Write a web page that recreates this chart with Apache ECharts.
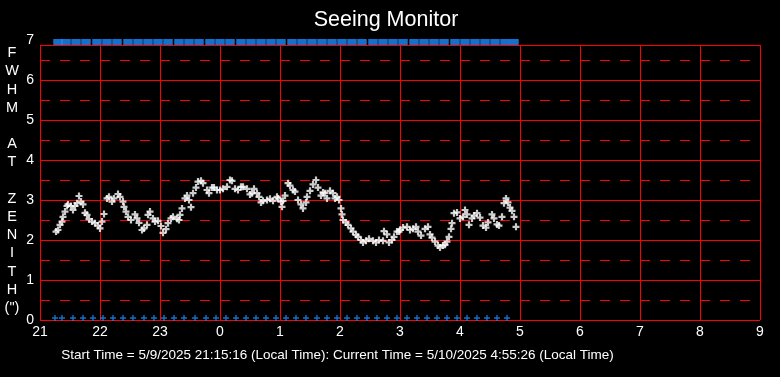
<!DOCTYPE html>
<html>
<head>
<meta charset="utf-8">
<script src="https://cdn.jsdelivr.net/npm/echarts@6/dist/echarts.min.js"></script>
<style>
  html, body { margin: 0; padding: 0; background: #000; }
  #main { width: 780px; height: 377px; }
</style>
</head>
<body>
<div id="main"></div>
<script>
// minutes after 21:00 (start 21:15:16), FWHM at zenith in arcsec
var seeingTimes = [16, 18, 20, 22, 23, 25, 27, 28, 31, 33, 35, 37, 39, 41, 43, 45, 47, 49, 52, 55,
    58, 60, 62, 64, 67, 69, 72, 74, 78, 80, 83, 84, 86, 88, 91, 95, 97, 99, 102, 104,
    107, 108, 110, 113, 115, 118, 121, 123, 126, 128, 131, 133, 137, 139, 140, 142, 145, 147, 149, 151,
    153, 156, 158, 161, 163, 167, 169, 172, 174, 177, 180, 183, 187, 190, 192, 195, 198, 201, 203, 207,
    210, 212, 214, 217, 219, 221, 223, 227, 230, 233, 237, 238, 241, 242, 243, 245, 248, 250, 253, 255,
    258, 261, 263, 266, 267, 270, 273, 276, 278, 281, 283, 285, 287, 290, 293, 295, 297, 299, 301, 302,
    303, 306, 308, 311, 313, 316, 318, 321, 323, 326, 329, 333, 336, 339, 343, 344, 347, 349, 352, 354,
    357, 359, 360, 363, 367, 370, 373, 376, 378, 381, 385, 388, 390, 392, 395, 398, 400, 403, 405, 407,
    409, 411, 412, 414, 417, 420, 423, 425, 427, 429, 432, 434, 437, 440, 443, 446, 448, 452, 454, 457,
    459, 462, 464, 466, 468, 470, 472, 474, 476];
var seeingValues = [2.21, 2.25, 2.38, 2.46, 2.58, 2.71, 2.85, 2.89, 2.85, 2.75, 2.85, 2.92, 3.10, 2.96, 2.89, 2.68, 2.63, 2.52, 2.46, 2.42,
    2.36, 2.29, 2.46, 2.65, 3.04, 3.08, 2.96, 3.04, 3.15, 3.08, 2.96, 2.83, 2.71, 2.58, 2.50, 2.64, 2.54, 2.43, 2.25, 2.29,
    2.38, 2.63, 2.71, 2.54, 2.46, 2.48, 2.35, 2.18, 2.27, 2.42, 2.54, 2.58, 2.53, 2.50, 2.63, 2.79, 3.04, 3.11, 3.00, 2.82,
    3.17, 3.31, 3.46, 3.48, 3.42, 3.25, 3.17, 3.31, 3.31, 3.25, 3.25, 3.28, 3.33, 3.50, 3.48, 3.28, 3.25, 3.33, 3.33, 3.28,
    3.14, 3.17, 3.28, 3.17, 3.08, 2.94, 2.98, 3.00, 3.03, 2.98, 3.08, 3.04, 2.96, 2.83, 2.98, 3.11, 3.42, 3.36, 3.25, 3.21,
    3.00, 2.89, 2.79, 2.94, 3.08, 3.23, 3.39, 3.50, 3.31, 3.11, 3.19, 3.17, 3.04, 3.23, 3.17, 3.04, 3.08, 3.00, 2.79, 2.64,
    2.50, 2.44, 2.38, 2.29, 2.21, 2.13, 2.08, 2.00, 1.94, 1.98, 2.03, 1.98, 1.94, 2.00, 1.98, 2.22, 2.14, 1.94, 2.00, 2.08,
    2.21, 2.21, 2.25, 2.31, 2.33, 2.25, 2.28, 2.33, 2.21, 2.11, 2.28, 2.33, 2.14, 2.06, 1.96, 1.86, 1.81, 1.86, 1.88, 1.96,
    2.08, 2.28, 2.42, 2.67, 2.69, 2.54, 2.58, 2.75, 2.64, 2.38, 2.54, 2.61, 2.67, 2.56, 2.36, 2.31, 2.44, 2.64, 2.54, 2.39,
    2.36, 2.58, 2.92, 3.04, 2.94, 2.81, 2.73, 2.58, 2.33];

// blue status marks along the top and bottom edges
var topMarkTimes = [18, 26, 36, 46, 57, 67, 77, 88, 98, 108, 118, 128, 139, 149, 159, 170, 180, 190, 201, 211,
    221, 231, 241, 252, 262, 272, 282, 292, 302, 312, 322, 333, 343, 353, 363, 374, 384, 394, 404, 415,
    425, 435, 445, 455, 465, 474];
var topMarkLevel = 6.95;
var bottomMarkTimes = [15, 22, 33, 43, 53, 63, 73, 83, 93, 104, 114, 124, 134, 144, 155, 166, 176, 186, 196, 206,
    216, 226, 236, 246, 256, 266, 277, 287, 297, 307, 317, 327, 337, 347, 357, 367, 377, 387, 397, 407,
    417, 427, 437, 447, 457, 467];
var bottomMarkLevel = 0.05;

var xTickLabels = ['21', '22', '23', '0', '1', '2', '3', '4', '5', '6', '7', '8', '9'];
var yTickLabels = ['0', '1', '2', '3', '4', '5', '6', '7'];

var startText = 'Start Time = 5/9/2025 21:15:16 (Local Time): Current Time = 5/10/2025 4:55:26 (Local Time)';

var plusWhite = 'path://M2.4,0 H4.6 V2.4 H7 V4.6 H4.6 V7 H2.4 V4.6 H0 V2.4 H2.4 Z';
var plusBlue = 'path://M2.3,0 H3.7 V2.3 H6 V3.7 H3.7 V6 H2.3 V3.7 H0 V2.3 H2.3 Z';

function zip(xs, ys) {
    var out = [];
    for (var i = 0; i < xs.length; i++) {
        out.push([xs[i], Array.isArray(ys) ? ys[i] : ys]);
    }
    return out;
}

var myChart = echarts.init(document.getElementById('main'));
var option = {
    backgroundColor: '#000000',
    animation: false,
    grid: { left: 40, right: 20, top: 45, bottom: 57 },
    graphic: [
        {
            type: 'text',
            style: { x: 386, y: 20, text: 'Seeing Monitor', fill: '#ffffff',
                font: '21.5px "Liberation Sans", Arial, sans-serif',
                align: 'center', verticalAlign: 'middle', textAlign: 'center', textVerticalAlign: 'middle' }
        },
        {
            type: 'text',
            style: { x: 12, y: 44, text: 'F\nW\nH\nM\n\nA\nT\n\nZ\nE\nN\nI\nT\nH\n(")', fill: '#ffffff',
                font: '14.5px "Liberation Sans", Arial, sans-serif', lineHeight: 18.2,
                align: 'center', verticalAlign: 'top', textAlign: 'center', textVerticalAlign: 'top' }
        },
        {
            type: 'text',
            style: { x: 337.5, y: 355, text: startText, fill: '#ffffff',
                font: '13.5px "Liberation Sans", Arial, sans-serif',
                align: 'center', verticalAlign: 'middle', textAlign: 'center', textVerticalAlign: 'middle' }
        }
    ],
    xAxis: {
        type: 'value',
        min: 0,
        max: 720,
        interval: 60,
        axisLine: { show: false },
        axisTick: { show: false },
        axisLabel: {
            color: '#ffffff',
            fontSize: 14,
            fontFamily: '"Liberation Sans", Arial, sans-serif',
            margin: 5,
            formatter: function (v, i) { return xTickLabels[i]; }
        },
        splitLine: { show: true, lineStyle: { color: '#ff0000', width: 1 } }
    },
    yAxis: {
        type: 'value',
        min: 0,
        max: 6.875,
        interval: 1,
        axisLine: { show: false },
        axisTick: { show: false },
        axisLabel: {
            color: '#ffffff',
            fontSize: 14,
            fontFamily: '"Liberation Sans", Arial, sans-serif',
            margin: 6,
            showMaxLabel: true,
            formatter: function (v, i) {
                return i === yTickLabels.length - 1 ? '{top|' + yTickLabels[i] + '}' : yTickLabels[i];
            },
            rich: {
                top: { color: '#ffffff', fontSize: 14, fontFamily: '"Liberation Sans", Arial, sans-serif', padding: [0, 0, 9, 0] }
            }
        },
        splitLine: { show: true, lineStyle: { color: '#ff0000', width: 1 } },
        minorTick: { show: false, splitNumber: 2 },
        minorSplitLine: { show: true, lineStyle: { color: '#ff0000', width: 1, type: [10, 10] } }
    },
    series: [
        {
            name: 'top',
            type: 'scatter',
            clip: false,
            symbol: 'rect',
            symbolSize: [9.5, 6],
            itemStyle: { color: '#1a8cff' },
            data: zip(topMarkTimes, topMarkLevel)
        },
        {
            name: 'bottom',
            type: 'scatter',
            clip: false,
            symbol: plusBlue,
            symbolSize: 6,
            itemStyle: { color: '#1a8cff' },
            data: zip(bottomMarkTimes, bottomMarkLevel)
        },
        {
            name: 'FWHM',
            type: 'scatter',
            symbol: plusWhite,
            symbolSize: 7,
            itemStyle: { color: '#ffffff' },
            data: zip(seeingTimes, seeingValues)
        }
    ]
};
myChart.setOption(option);
</script>
</body>
</html>
